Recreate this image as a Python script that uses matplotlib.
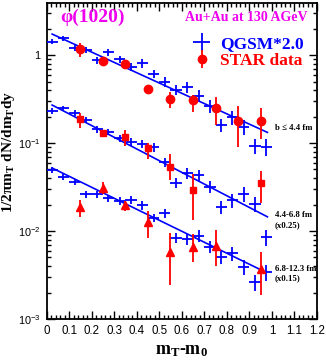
import numpy as np
import matplotlib
matplotlib.use('Agg')
import matplotlib.pyplot as plt
from matplotlib.ticker import MultipleLocator, LogLocator, NullFormatter, FuncFormatter

plt.rcParams['font.family'] = ['Liberation Serif', 'DejaVu Serif']
plt.rcParams['mathtext.fontset'] = 'custom'
plt.rcParams['mathtext.rm'] = 'Liberation Serif:bold'
plt.rcParams['mathtext.it'] = 'Liberation Serif:bold'
plt.rcParams['mathtext.bf'] = 'Liberation Serif:bold'

# ---- QGSM*2.0 (bin centres, 0.05 wide bins) ----
qgsm_x = [0.025, 0.075, 0.125, 0.175, 0.225, 0.275, 0.325, 0.375, 0.425, 0.475,
          0.525, 0.575, 0.625, 0.675, 0.725, 0.775, 0.825, 0.875, 0.925, 0.975]
qgsm_central = [1.42, 1.55, 1.21, 1.14, 0.877, 1.07, 0.893, 0.736, 0.805, 0.608,
                0.497, 0.400, 0.433, 0.345, 0.263, 0.160, 0.196, 0.153, 0.093, 0.091]
qgsm_mid = [0.231, 0.248, 0.218, 0.183, 0.143, 0.134, 0.113, 0.1035, 0.0974, 0.0894,
            0.0603, 0.0351, 0.0453, 0.0433, 0.0319, 0.0187, 0.0225, 0.0263, 0.0203, 0.00855]
qgsm_periph = [0.0493, 0.0411, 0.0363, 0.0261, 0.0261, 0.0235, 0.0219, 0.0225, 0.0195, 0.01416,
               0.0159, 0.00839, 0.00805, 0.00885, 0.00664, 0.00511, 0.00558, 0.00393, 0.00261, 0.0034]
qgsm_relerr = [0.07, 0.07, 0.08, 0.08, 0.09, 0.09, 0.10, 0.10, 0.11, 0.11,
               0.12, 0.13, 0.14, 0.15, 0.16, 0.17, 0.18, 0.19, 0.20, 0.21]
qgsm_halfbin = 0.025

# ---- STAR data ----
star_x = [0.15, 0.25, 0.35, 0.45, 0.55, 0.65, 0.75, 0.85, 0.95]
star_central = [1.16, 0.861, 0.784, 0.414, 0.316, 0.308, 0.248, 0.179, 0.179]
star_central_lo = [0.956, 0.756, 0.688, 0.367, 0.248, 0.225, 0.160, 0.091, 0.110]
star_central_hi = [1.36, 0.956, 0.877, 0.456, 0.383, 0.351, 0.331, 0.263, 0.248]

star_mid_x = [0.15, 0.25, 0.35, 0.45, 0.55, 0.65, 0.95]
star_mid = [0.187, 0.131, 0.118, 0.0871, 0.0538, 0.0292, 0.0348]
star_mid_lo = [0.147, 0.120, 0.0932, 0.0653, 0.038, 0.0133, 0.0208]
star_mid_hi = [0.218, 0.141, 0.141, 0.0993, 0.0751, 0.0444, 0.0484]

star_per_x = [0.15, 0.25, 0.35, 0.45, 0.55, 0.65, 0.75, 0.95]
star_per = [0.0189, 0.0306, 0.0197, 0.01276, 0.00582, 0.00664, 0.00681, 0.0037]
star_per_lo = [0.01454, 0.0261, 0.01687, 0.00826, 0.00243, 0.00448, 0.00403, 0.00187]
star_per_hi = [0.0225, 0.0357, 0.0219, 0.017, 0.00942, 0.00917, 0.01026, 0.00582]

# ---- exponential fits: value at x0, log10 slope, x range ----
fit_amp = [1.73, 0.270, 0.052]
fit_slope = [-1.17, -1.33, -1.25]
fit_x0 = 0.025
fit_xmax = [0.98, 0.98, 0.955]

labels = ['b \u2264 4.4 fm', '4.4-6.8 fm\n(x0.25)', '6.8-12.3 fm\n(x0.15)']
label_x = 1.012

fig = plt.figure(figsize=(3.26, 3.6), dpi=100)
ax = fig.add_axes([46.5 / 326, 1 - 319 / 360, (317 - 46.5) / 326, (319 - 3.3) / 360])
ax.set_yscale('log')
ax.set_xlim(0, 1.2)
ax.set_ylim(1e-3, 3.87)

# fit lines
for a, k, xm in zip(fit_amp, fit_slope, fit_xmax):
    xs = np.linspace(fit_x0, xm, 50)
    ax.plot(xs, a * 10 ** (k * (xs - fit_x0)), color='blue', lw=1.2, zorder=2)

# QGSM crosses
qx = np.array(qgsm_x)
rel = np.array(qgsm_relerr)
for ser in (qgsm_central, qgsm_mid, qgsm_periph):
    y = np.array(ser)
    h_q = ax.errorbar(qx, y, xerr=qgsm_halfbin, yerr=y * rel, fmt='none',
                      ecolor='blue', elinewidth=1.3, capsize=0, zorder=3)

# STAR points
for x, y, lo, hi, mk, ms in [(star_x, star_central, star_central_lo, star_central_hi, 'o', 6),
                             (star_mid_x, star_mid, star_mid_lo, star_mid_hi, 's', 5),
                             (star_per_x, star_per, star_per_lo, star_per_hi, '^', 6)]:
    y = np.array(y)
    err = [y - np.array(lo), np.array(hi) - y]
    h = ax.errorbar(x, y, yerr=err, fmt=mk, color='red', ms=ms, mec='red',
                    elinewidth=1.3, capsize=0, zorder=4)
    if mk == 'o':
        h_s = h

# axis styling
ax.xaxis.set_major_locator(MultipleLocator(0.1))
ax.xaxis.set_minor_locator(MultipleLocator(0.02))
ax.yaxis.set_major_locator(LogLocator(base=10))
ax.yaxis.set_minor_locator(LogLocator(base=10, subs=np.arange(2, 10)))
ax.yaxis.set_minor_formatter(NullFormatter())


def xfmt(v, pos):
    if abs(v - round(v)) < 1e-9:
        return '%d' % round(v)
    return '%.1f' % v


def yfmt(v, pos):
    e = int(round(np.log10(v)))
    if e == 0:
        return '1'
    return r'$\mathregular{10^{%d}}$' % e


ax.xaxis.set_major_formatter(FuncFormatter(xfmt))
ax.yaxis.set_major_formatter(FuncFormatter(yfmt))
ax.tick_params(which='both', direction='in', top=True, right=True, width=1)
ax.tick_params(which='major', length=6)
ax.tick_params(axis='x', which='major', pad=4, labelsize=8.3)
ax.tick_params(axis='y', which='major', pad=4.5, labelsize=7.8)
ax.tick_params(which='minor', length=3)
for lab in ax.get_xticklabels() + ax.get_yticklabels():
    lab.set_family('Liberation Sans')
for s in ax.spines.values():
    s.set_linewidth(1.3)

ax.set_xlabel(r'm$_\mathregular{T}$-m$_\mathregular{0}$', fontsize=13, fontweight='bold', labelpad=4)
ax.set_ylabel(r'1/2$\pi$m$_\mathregular{T}$ dN/dm$_\mathregular{T}$dy', fontsize=11,
              fontweight='bold')
ax.yaxis.set_label_coords(-0.108, 0.53)

ax.text(0.05, 0.955, '\u03c6(1020)', transform=ax.transAxes, color='#ee00ee',
        fontsize=14, fontweight='bold', va='center', ha='left')
ax.text(0.965, 0.955, 'Au+Au at 130 AGeV', transform=ax.transAxes, color='#ee00ee',
        fontsize=10, fontweight='bold', va='center', ha='right')

ax.legend([h_q, h_s], ['QGSM*2.0', 'STAR data'], loc='upper right',
          bbox_to_anchor=(0.995, 0.935), frameon=False, handlelength=1.3,
          handletextpad=0.4, labelspacing=0.05, borderpad=0.2,
          prop={'family': 'Liberation Serif', 'weight': 'bold', 'size': 12.5},
          labelcolor=['blue', 'red'])

# centrality labels next to the fit ends
for a, k, xm, lab in zip(fit_amp, fit_slope, fit_xmax, labels):
    yend = a * 10 ** (k * (xm - fit_x0))
    if '\n' in lab:
        ax.annotate(lab, (label_x, yend), xytext=(0, 4), textcoords='offset points',
                    fontsize=6.3, fontweight='bold', va='top', ha='left', linespacing=1.3)
    else:
        ax.annotate(lab, (label_x, yend), xytext=(0, 3), textcoords='offset points',
                    fontsize=6.3, fontweight='bold', va='center', ha='left')

fig.savefig('out.png', dpi=100)
